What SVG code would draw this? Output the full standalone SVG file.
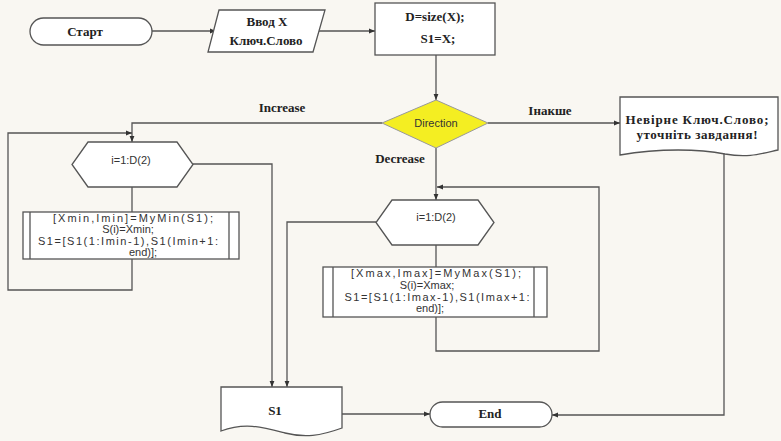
<svg xmlns="http://www.w3.org/2000/svg" width="781" height="441" viewBox="0 0 781 441">
<defs>
<marker id="ar" viewBox="0 0 10 10" refX="10" refY="5" markerWidth="6" markerHeight="6" orient="auto" markerUnits="userSpaceOnUse">
<path d="M0,1 L10,5 L0,9 Z" fill="#333"/>
</marker>
<style>
.s{fill:#fff;stroke:#555;stroke-width:1.3}
.c{fill:none;stroke:#555;stroke-width:1.3}
.b{font-family:"Liberation Serif",serif;font-weight:bold;font-size:13px;fill:#222;text-anchor:middle}
.n{font-family:"Liberation Sans",sans-serif;font-size:11px;fill:#333;text-anchor:middle}
</style>
</defs>
<rect width="781" height="441" fill="#f9f7f2"/>
<g id="connectors">
<path class="c" d="M152,31 H216" marker-end="url(#ar)"/>
<path class="c" d="M319,31 H375" marker-end="url(#ar)"/>
<path class="c" d="M436,55 V100" marker-end="url(#ar)"/>
<path class="c" d="M488,123 H620" marker-end="url(#ar)"/>
<path class="c" d="M382,123 H132 V142" marker-end="url(#ar)"/>
<path class="c" d="M132,187 V212"/>
<path class="c" d="M132,259 V290 H8 V133 H132" marker-end="url(#ar)"/>
<path class="c" d="M193,164 H272 V387" marker-end="url(#ar)"/>
<path class="c" d="M436,148 V200" marker-end="url(#ar)"/>
<path class="c" d="M436,245 V267"/>
<path class="c" d="M436,317 V351 H599 V187 H437" marker-end="url(#ar)"/>
<path class="c" d="M376,222 H287 V387" marker-end="url(#ar)"/>
<path class="c" d="M342,414 H430" marker-end="url(#ar)"/>
<path class="c" d="M724,153 V415 H552" marker-end="url(#ar)"/>
</g>
<g id="labels">
<text class="b" x="282" y="112">Increase</text>
<text class="b" x="550" y="115">Інакше</text>
<text class="b" x="400" y="163">Decrease</text>
</g>
<g id="start">
<rect class="s" x="30" y="18" width="122" height="27" rx="13.5"/>
<text class="b" x="85" y="36" font-size="14">Старт</text>
</g>
<g id="input">
<path class="s" d="M219,10 H325 L313,52 H208 Z"/>
<text class="b" x="267" y="26">Ввод X</text>
<text class="b" x="266" y="45">Ключ.Слово</text>
</g>
<g id="init">
<rect class="s" x="375" y="3" width="120" height="52"/>
<text class="b" x="435" y="21" font-size="14">D=size(X);</text>
<text class="b" x="438" y="43" font-size="14">S1=X;</text>
</g>
<g id="direction">
<path d="M436,100 L488,123 L436,148 L382,123 Z" fill="#f4ee22" stroke="#999" stroke-width="1"/>
<text class="n" x="436" y="127" font-size="12">Direction</text>
</g>
<g id="error">
<path class="s" d="M620,97 H778 V150 C760,154 748,158 725,154 C700,149 660,148 620,155 Z"/>
<text class="b" x="697" y="124" font-size="11.5" textLength="143">Невірне Ключ.Слово;</text>
<text class="b" x="697" y="139" font-size="11.5" textLength="121">уточніть завдання!</text>
</g>
<g id="loop1">
<path class="s" d="M88,142 H177 L193,164.5 L177,187 H88 L72,164.5 Z"/>
<text class="n" x="131" y="164" font-size="12">i=1:D(2)</text>
</g>
<g id="body1">
<rect class="s" x="23" y="212" width="216" height="47"/>
<path class="c" d="M30,212 V259 M229,212 V259" stroke-width="2"/>
<text class="n" x="133" y="222" textLength="160">[Xmin,Imin]=MyMin(S1);</text>
<text class="n" x="128" y="233">S(i)=Xmin;</text>
<text class="n" x="128" y="245" textLength="180">S1=[S1(1:Imin-1),S1(Imin+1:</text>
<text class="n" x="143" y="256">end)];</text>
</g>
<g id="loop2">
<path class="s" d="M392,200 H478 L494,222.5 L478,245 H392 L376,222.5 Z"/>
<text class="n" x="436" y="221" font-size="12">i=1:D(2)</text>
</g>
<g id="body2">
<rect class="s" x="323" y="267" width="224" height="50"/>
<path class="c" d="M333,267 V317 M534,267 V317" stroke-width="2"/>
<text class="n" x="436" y="277" textLength="170">[Xmax,Imax]=MyMax(S1);</text>
<text class="n" x="427" y="289">S(i)=Xmax;</text>
<text class="n" x="437" y="301" textLength="185">S1=[S1(1:Imax-1),S1(Imax+1:</text>
<text class="n" x="430" y="312">end)];</text>
</g>
<g id="output">
<path class="s" d="M221,387 H342 V428 C320,436 305,438 285,433 C262,427 245,422 221,431 Z"/>
<text class="b" x="275" y="415" font-size="13">S1</text>
</g>
<g id="end">
<rect class="s" x="430" y="402" width="122" height="25" rx="12.5"/>
<text class="b" x="490" y="418" font-size="11">End</text>
</g>
</svg>
